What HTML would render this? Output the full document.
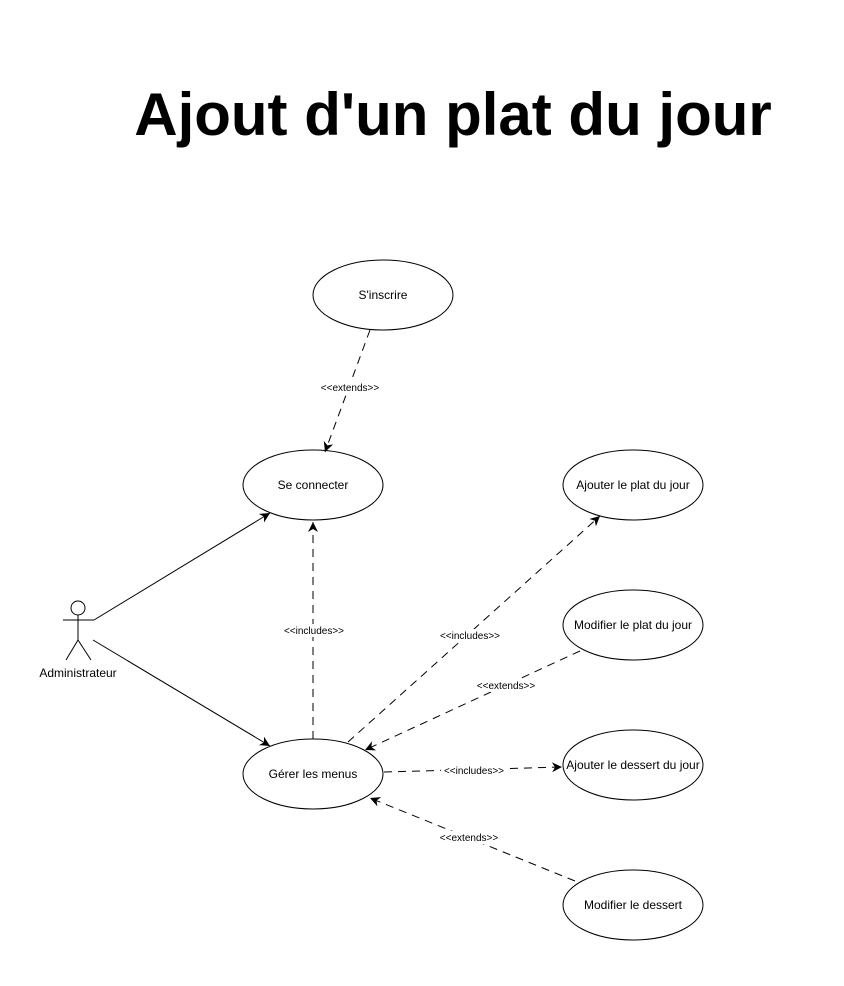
<!DOCTYPE html>
<html><head><meta charset="utf-8"><style>
html,body{margin:0;padding:0;background:#fff;}
svg text{font-family:"Liberation Sans",Arial,sans-serif;}
</style></head><body>
<svg width="844" height="981" viewBox="0 0 844 981" xmlns="http://www.w3.org/2000/svg">
<defs>
<marker id="a" markerWidth="12" markerHeight="10" refX="10" refY="5" orient="auto" markerUnits="userSpaceOnUse">
<path d="M0,0 L10,5 L0,10 L3,5 Z" fill="#000"/>
</marker>
</defs>
<rect width="844" height="981" fill="#fff"/>
<text x="453" y="135" font-size="60" font-weight="bold" text-anchor="middle">Ajout d'un plat du jour</text>
<g fill="#fff" stroke="#000" stroke-width="1">
<ellipse cx="383" cy="295" rx="70" ry="35"/>
<ellipse cx="313" cy="485" rx="70" ry="35"/>
<ellipse cx="313" cy="774" rx="70" ry="35"/>
<ellipse cx="633" cy="485" rx="70" ry="35"/>
<ellipse cx="633" cy="625" rx="70" ry="35"/>
<ellipse cx="633" cy="765" rx="70" ry="35"/>
<ellipse cx="633" cy="905" rx="70" ry="35"/>
</g>
<g font-size="12" text-anchor="middle">
<text x="383" y="299">S'inscrire</text>
<text x="313" y="489">Se connecter</text>
<text x="313" y="778">Gérer les menus</text>
<text x="633" y="489">Ajouter le plat du jour</text>
<text x="633" y="629">Modifier le plat du jour</text>
<text x="633" y="769">Ajouter le dessert du jour</text>
<text x="633" y="909">Modifier le dessert</text>
<text x="78" y="677">Administrateur</text>
</g>
<g stroke="#000" fill="none">
<circle cx="78" cy="608" r="7" fill="#fff"/>
<line x1="78" y1="615" x2="78" y2="640"/>
<line x1="63" y1="620" x2="94" y2="620"/>
<line x1="78" y1="640" x2="66" y2="660"/>
<line x1="78" y1="640" x2="91" y2="660"/>
<line x1="94" y1="620" x2="270" y2="513" marker-end="url(#a)"/>
<line x1="93" y1="640" x2="270" y2="746" marker-end="url(#a)"/>
<g stroke-dasharray="8,6">
<line x1="370" y1="330" x2="325" y2="452" marker-end="url(#a)"/>
<line x1="313" y1="739" x2="313" y2="522" marker-end="url(#a)"/>
<line x1="348" y1="742" x2="600" y2="516" marker-end="url(#a)"/>
<line x1="580" y1="651" x2="365" y2="750" marker-end="url(#a)"/>
<line x1="384" y1="772" x2="562" y2="767" marker-end="url(#a)"/>
<line x1="575" y1="881" x2="370" y2="798" marker-end="url(#a)"/>
</g>
</g>
<g font-size="10" text-anchor="middle">
<rect x="318" y="381" width="64" height="13" fill="#fff"/>
<text x="350" y="391">&lt;&lt;extends&gt;&gt;</text>
<rect x="281" y="624" width="66" height="13" fill="#fff"/>
<text x="314" y="634">&lt;&lt;includes&gt;&gt;</text>
<rect x="437" y="629" width="66" height="13" fill="#fff"/>
<text x="470" y="639">&lt;&lt;includes&gt;&gt;</text>
<rect x="474" y="679" width="64" height="13" fill="#fff"/>
<text x="506" y="689">&lt;&lt;extends&gt;&gt;</text>
<rect x="441" y="764" width="66" height="13" fill="#fff"/>
<text x="474" y="774">&lt;&lt;includes&gt;&gt;</text>
<rect x="437" y="831" width="64" height="13" fill="#fff"/>
<text x="469" y="841">&lt;&lt;extends&gt;&gt;</text>
</g>
</svg>
</body></html>
